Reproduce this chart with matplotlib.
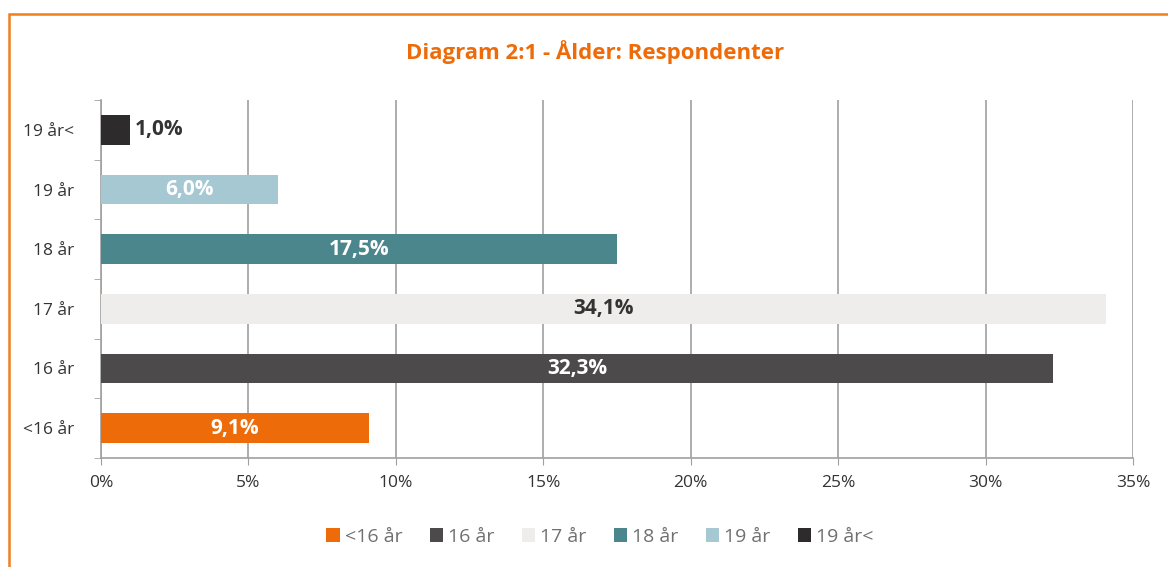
import matplotlib
matplotlib.use("Agg")
import matplotlib.pyplot as plt
from matplotlib.patches import Rectangle, Patch
from matplotlib.ticker import FixedLocator, PercentFormatter

plt.rcParams['font.family'] = ['Open Sans', 'DejaVu Sans']

categories = ['<16 år', '16 år', '17 år', '18 år', '19 år', '19 år<']
values = [9.1, 32.3, 34.1, 17.5, 6.0, 1.0]
labels = ['9,1%', '32,3%', '34,1%', '17,5%', '6,0%', '1,0%']
colors = ['#EE6B09', '#4D4A4B', '#EEEDEB', '#4A868B', '#A5C8D3', '#2D2B2C']
label_colors = ['white', 'white', '#333333', 'white', 'white', '#333333']
xticks = [0, 5, 10, 15, 20, 25, 30, 35]

fig = plt.figure(figsize=(11.68, 5.67), dpi=100)
ax = fig.add_axes([101/1168, 1-458/567, (1133-101)/1168, (458-100)/567])

# orange frame (only left & top visible in the crop)
fig.patches.append(Rectangle((9/1168, -0.1), 1.2, 0.1+1-14/567, transform=fig.transFigure,
                             fill=False, edgecolor='#F07F1E', linewidth=1.8))

y = list(range(len(categories)))
ax.barh(y, values, height=0.5, color=colors, zorder=3)

for i, (v, lab) in enumerate(zip(values, labels)):
    if v < 3:
        ax.text(v + 0.15, i, lab, ha='left', va='center', fontsize=15, fontweight='bold',
                color=label_colors[i], zorder=4)
    else:
        ax.text(v/2, i, lab, ha='center', va='center', fontsize=15, fontweight='bold',
                color=label_colors[i], zorder=4)

ax.set_xlim(0, 35)
ax.set_ylim(-0.5, len(categories) - 0.5)
ax.set_xticks(xticks)
ax.xaxis.set_major_formatter(PercentFormatter(decimals=0))
ax.set_yticks(y)
ax.set_yticklabels(categories)
ax.yaxis.set_minor_locator(FixedLocator([i - 0.5 for i in range(len(categories) + 1)]))
ax.tick_params(axis='y', which='major', length=0, pad=19, labelsize=12.5, colors='#333333')
ax.tick_params(axis='y', which='minor', length=5, color='#A0A0A0', direction='out')
ax.tick_params(axis='x', which='major', length=5, color='#A0A0A0', labelsize=12.5,
               labelcolor='#333333', pad=7)

ax.grid(axis='x', color='#A0A0A0', linewidth=1.2, zorder=0)
for s in ['top', 'right']:
    ax.spines[s].set_visible(False)
for s in ['left', 'bottom']:
    ax.spines[s].set_color('#A0A0A0')
    ax.spines[s].set_linewidth(1.2)

fig.text(595/1168, 1-52/567, 'Diagram 2:1 - Ålder: Respondenter', ha='center', va='center',
         fontsize=16, fontweight='bold', color='#EE6B09')

handles = [Patch(facecolor=c, edgecolor='none') for c in colors]
leg = fig.legend(handles, categories, loc='center', bbox_to_anchor=(600/1168, 1-537/567),
                 ncol=6, frameon=False, fontsize=14, handlelength=0.7, handleheight=0.7,
                 handletextpad=0.25, columnspacing=1.4)
for t in leg.get_texts():
    t.set_color('#707070')

fig.savefig('out.png', dpi=100)
